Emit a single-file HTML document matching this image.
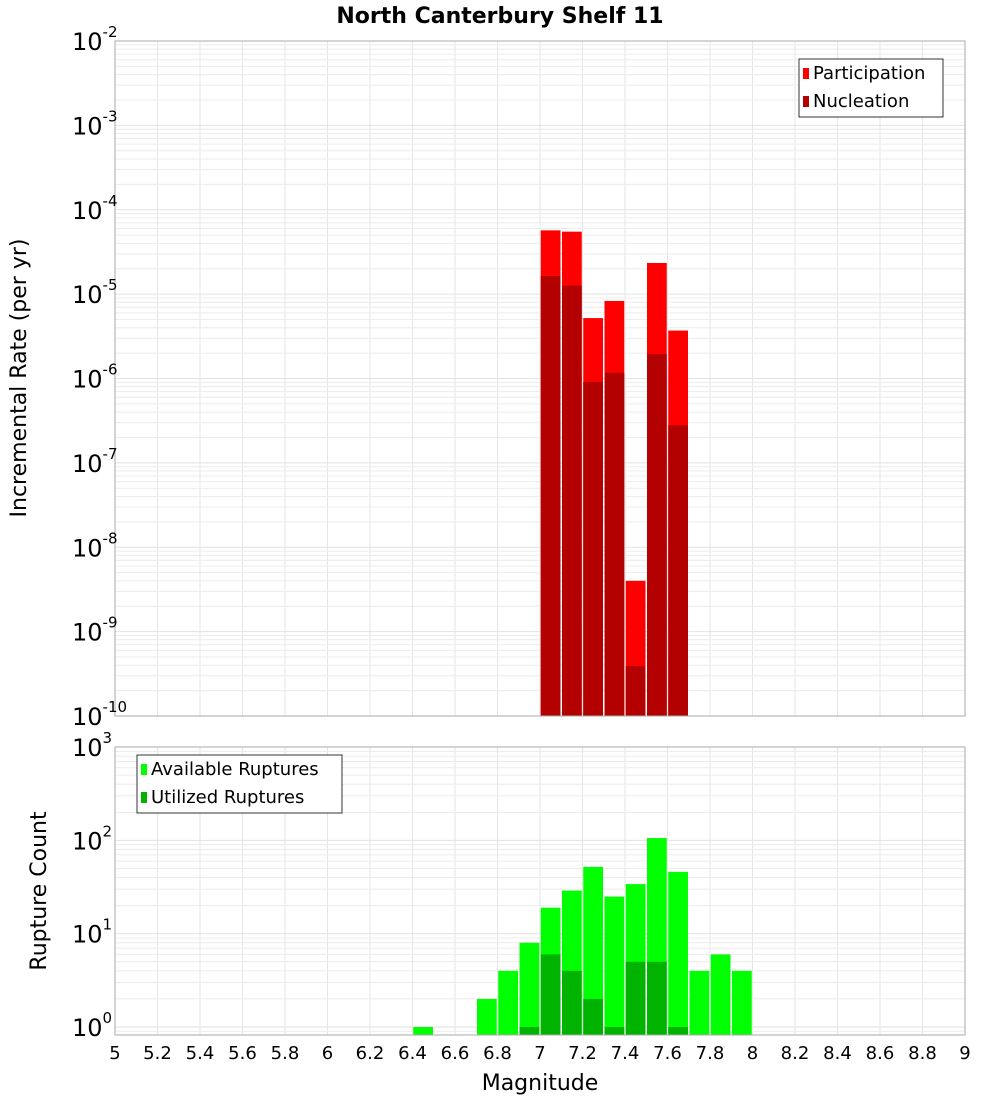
<!DOCTYPE html>
<html><head><meta charset="utf-8"><style>body{margin:0;background:#fff}svg{font-family:"DejaVu Sans","Liberation Sans",sans-serif}</style></head>
<body>
<svg id="c" width="1000" height="1100" xmlns="http://www.w3.org/2000/svg"></svg>
<script>
const binCenters=[7.05,7.15,7.25,7.35,7.45,7.55,7.65];
const participation=[5.7e-5,5.5e-5,5.2e-6,8.3e-6,4e-9,2.34e-5,3.7e-6];
const nucleation=[1.64e-5,1.26e-5,9.1e-7,1.17e-6,3.9e-10,1.95e-6,2.8e-7];
const countCenters=[6.45,6.75,6.85,6.95,7.05,7.15,7.25,7.35,7.45,7.55,7.65,7.75,7.85,7.95];
const available=[1,2,4,8,19,29,52,25,34,106,46,4,6,4];
const utilCenters=[6.95,7.05,7.15,7.25,7.35,7.45,7.55,7.65];
const utilized=[1,6,4,2,1,5,5,1];
const xTicks=[5,5.2,5.4,5.6,5.8,6,6.2,6.4,6.6,6.8,7,7.2,7.4,7.6,7.8,8,8.2,8.4,8.6,8.8,9];
const topExp=[-10,-9,-8,-7,-6,-5,-4,-3,-2];
const botExp=[0,1,2,3];
const NS="http://www.w3.org/2000/svg",svg=document.getElementById('c');
function el(t,a,p){const e=document.createElementNS(NS,t);for(const k in a)e.setAttribute(k,a[k]);(p||svg).appendChild(e);return e;}
const L=115,R=965;
const X=m=>L+(m-5)/4*(R-L);
const T0=41,T1=716,Y1=v=>T0+(-2-Math.log10(v))*(T1-T0)/8;
const B0=747,B1=1035,Y2=v=>1027-93.3*Math.log10(v);
function grid(top,bot,yf,emin,emax){
 for(const t of xTicks){const g=el('line',{x1:X(t),x2:X(t),y1:top,y2:bot,stroke:'#e6e6e6'});}
 for(let e=emin;e<emax;e++)for(let k=1;k<10;k++){const y=yf(k*Math.pow(10,e));if(y<top||y>bot)continue;const g=el('line',{x1:L,x2:R,y1:y,y2:y,stroke:k==1?'#e2e2e2':'#ececec'});}
}
grid(T0,T1,Y1,-10,-2);grid(B0,B1,Y2,-1,3);
const bw=(X(5.1)-X(5))-1.5;
function bar(c,v,yf,bot,fill,name){const x=X(c)-bw/2,y=yf(v);const r=el('rect',{x:x,y:y,width:bw,height:bot-y,fill:fill});}
binCenters.forEach((c,i)=>bar(c,participation[i],Y1,T1,'#ff0000','participation-bar'));
binCenters.forEach((c,i)=>bar(c,nucleation[i],Y1,T1,'#b30000','nucleation-bar'));
countCenters.forEach((c,i)=>bar(c,available[i],Y2,B1,'#00ff00','available-bar'));
utilCenters.forEach((c,i)=>bar(c,utilized[i],Y2,B1,'#00b300','utilized-bar'));
for(const [t,b,n] of [[T0,T1,'top-plot-frame'],[B0,B1,'bottom-plot-frame']]){const r=el('rect',{x:L,y:t,width:R-L,height:b-t,fill:'none',stroke:'#aaa'});}
function ylab(y,e,n){const t=el('text',{x:72,y:y+9,'font-size':24});t.textContent='10';const s=el('tspan',{dy:-13,'font-size':15},t);s.textContent=String(e);}
topExp.forEach(e=>ylab(Y1(Math.pow(10,e)),e,'top-y-tick-label'));
botExp.forEach(e=>ylab(Y2(Math.pow(10,e)),e,'bottom-y-tick-label'));
xTicks.forEach(t=>{const s=el('text',{x:X(t),y:1059,'font-size':18,'text-anchor':'middle'});s.textContent=String(t);});
function txt(s,a,n){const t=el('text',a);t.textContent=s;return t;}
txt('North Canterbury Shelf 11',{x:500,y:23,'font-size':22,'font-weight':'bold','text-anchor':'middle'},'chart-title');
txt('Magnitude',{x:540,y:1090,'font-size':22,'text-anchor':'middle'},'x-axis-title');
txt('Incremental Rate (per yr)',{x:0,y:0,'font-size':22,'text-anchor':'middle',transform:'translate(26,378) rotate(-90)'},'top-y-axis-title');
txt('Rupture Count',{x:0,y:0,'font-size':22,'text-anchor':'middle',transform:'translate(46,891) rotate(-90)'},'bottom-y-axis-title');
function legend(x,y,w,items,n){const g=el('g',{});el('rect',{x:x,y:y,width:w,height:58,fill:'#fff',stroke:'#333'},g);items.forEach((it,i)=>{el('rect',{x:x+4,y:y+9+i*28,width:6,height:11,fill:it[1]},g);const t=el('text',{x:x+14,y:y+20+i*28,'font-size':18},g);t.textContent=it[0];});}
legend(799,59,144,[['Participation','#ff0000'],['Nucleation','#b30000']],'top-legend');
legend(137,755,205,[['Available Ruptures','#00ff00'],['Utilized Ruptures','#00b300']],'bottom-legend');
</script>
</body></html>
